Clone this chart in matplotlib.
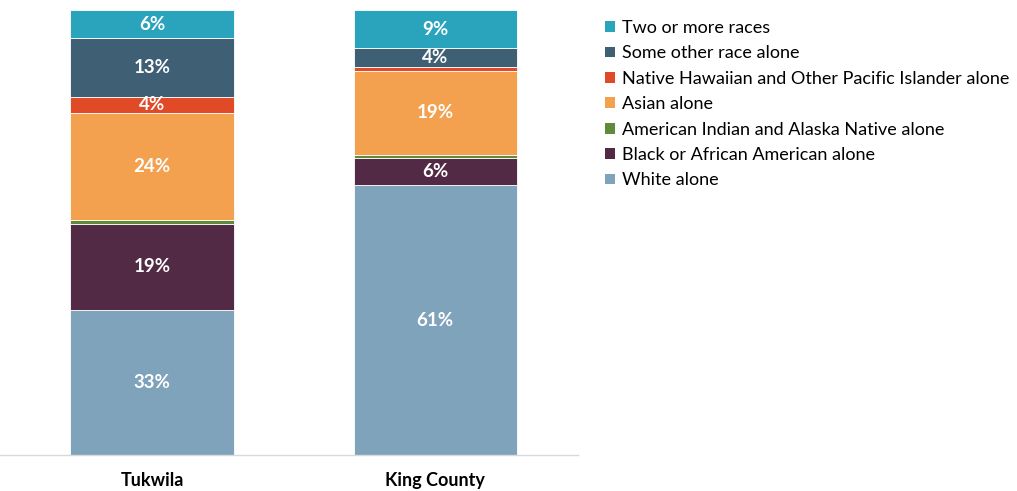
import matplotlib
matplotlib.use("Agg")
import matplotlib.pyplot as plt
from matplotlib.patches import Patch

categories = ["Tukwila", "King County"]
series_names = [
    "White alone",
    "Black or African American alone",
    "American Indian and Alaska Native alone",
    "Asian alone",
    "Native Hawaiian and Other Pacific Islander alone",
    "Some other race alone",
    "Two or more races",
]
white = [32.6, 60.6]
black = [19.3, 6.2]
aian = [0.8, 0.6]
asian = [24.2, 19.0]
nhpi = [3.6, 0.8]
other = [13.2, 4.2]
two_more = [6.3, 8.6]
values = [white, black, aian, asian, nhpi, other, two_more]
colors = ["#7FA3BB", "#522A45", "#5F8B3B", "#F3A14F", "#E04A27", "#3F5F74", "#29A4BC"]

plt.rcParams["font.family"] = ["Lato", "DejaVu Sans"]

fig = plt.figure(figsize=(10.17, 4.91), dpi=100)
ax = fig.add_axes([0, 36 / 491, 578 / 1017, 445 / 491])

x = list(range(len(categories)))
bottoms = [0.0] * len(categories)
for name, vals, col in zip(series_names, values, colors):
    ax.bar(x, vals, bottom=bottoms, width=0.576, color=col, edgecolor="white",
           linewidth=0.6, label=name)
    for i, v in enumerate(vals):
        if v >= 2:
            ax.text(x[i], bottoms[i] + v / 2, f"{round(v)}%", ha="center", va="center",
                    color="white", fontsize=13.5, fontweight="bold")
    bottoms = [b + v for b, v in zip(bottoms, vals)]

ax.set_xlim(-0.537, 1.505)
ax.set_ylim(0, 100)
ax.set_yticks([])
ax.set_xticks(x)
ax.set_xticklabels(categories, fontsize=13, fontweight="bold")
ax.tick_params(axis="x", length=0, pad=12)
for s in ["top", "right", "left"]:
    ax.spines[s].set_visible(False)
ax.spines["bottom"].set_color("#D9D9D9")
ax.spines["bottom"].set_linewidth(1)

handles = [Patch(facecolor=c) for c in colors][::-1]
labels = series_names[::-1]
fig.legend(handles, labels, loc="upper left", bbox_to_anchor=(605 / 1017, 1 - 20 / 491),
           frameon=False, fontsize=13.0, handlelength=0.55, handleheight=0.55,
           handletextpad=0.4, labelspacing=0.52, borderaxespad=0, borderpad=0)

fig.savefig("out.png", dpi=100)
